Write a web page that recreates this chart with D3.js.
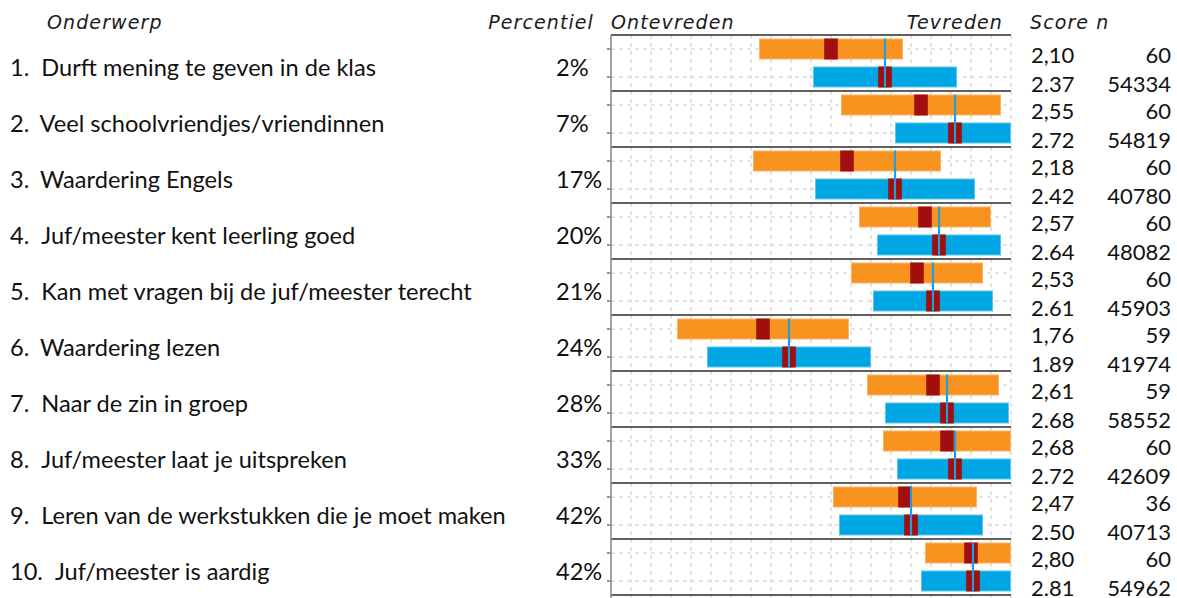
<!DOCTYPE html>
<html>
<head>
<meta charset="utf-8">
<script src="https://cdn.jsdelivr.net/npm/d3@7"></script>
<style>
  html, body { margin: 0; padding: 0; background: #fff; overflow: hidden; }
  svg { display: block; }
  .head { font-family: "DejaVu Sans", sans-serif; font-style: italic; font-size: 19px; fill: #1a1a1a; letter-spacing: 1.1px; }
  .lbl { font-family: Lato, "Open Sans", sans-serif; font-size: 23.6px; fill: #111; }
  .num { font-family: Lato, "Open Sans", sans-serif; font-size: 22px; fill: #111; }
</style>
</head>
<body>
<svg id="chart" width="1177" height="598"></svg>
<script>
// Onderwerpen (topics) and the school's percentile per topic
const topics = [
  "Durft mening te geven in de klas",
  "Veel schoolvriendjes/vriendinnen",
  "Waardering Engels",
  "Juf/meester kent leerling goed",
  "Kan met vragen bij de juf/meester terecht",
  "Waardering lezen",
  "Naar de zin in groep",
  "Juf/meester laat je uitspreken",
  "Leren van de werkstukken die je moet maken",
  "Juf/meester is aardig"
];
const percentiles = [2, 7, 17, 20, 21, 24, 28, 33, 42, 42];

// School: mean score, spread (half bar width) and number of respondents
const schoolScore  = [2.10, 2.55, 2.18, 2.57, 2.53, 1.76, 2.61, 2.68, 2.47, 2.80];
const schoolSpread = [0.36, 0.40, 0.47, 0.33, 0.33, 0.43, 0.33, 0.32, 0.36, 0.23];
const schoolN      = [60, 60, 60, 60, 60, 59, 59, 60, 36, 60];

// Reference group: mean score, spread and number of respondents
const refScore  = [2.37, 2.72, 2.42, 2.64, 2.61, 1.89, 2.68, 2.72, 2.50, 2.81];
const refSpread = [0.36, 0.30, 0.40, 0.31, 0.30, 0.41, 0.31, 0.29, 0.36, 0.26];
const refN      = [54334, 54819, 40780, 48082, 45903, 41974, 58552, 42609, 40713, 54962];

// Score scale and grid step
const scoreDomain = [1, 3];
const gridStep = 0.1;
const markerHalf = 0.034;

const colors = {
  school: "#F7921E", schoolEdge: "#FBB366",
  ref: "#00A5E3", refEdge: "#5CC6F0",
  marker: "#A00E0E", refLine: "#1E9FDD"
};

const svg = d3.select("#chart");
const plotLeft = 611, plotRight = 1011, plotTop = 35, rowH = 56;

const x = d3.scaleLinear().domain(scoreDomain).range([plotLeft, plotRight]);
const y = d3.scaleBand().domain(d3.range(topics.length))
  .range([plotTop, plotTop + rowH * topics.length]).paddingInner(0).paddingOuter(0);
const sub = d3.scaleBand().domain(["school", "ref"]).range([0, y.bandwidth()])
  .paddingInner(0.25).paddingOuter(0.125);

const rows = topics.map((t, i) => ({
  i, topic: t, pct: percentiles[i],
  school: { key: "school", score: schoolScore[i], spread: schoolSpread[i], n: schoolN[i] },
  ref: { key: "ref", score: refScore[i], spread: refSpread[i], n: refN[i] }
}));

// Headers
const head = svg.append("g");
head.append("text").attr("class", "head").attr("x", 47).attr("y", 29).text("Onderwerp");
head.append("text").attr("class", "head").attr("x", 594).attr("y", 29).attr("text-anchor", "end").text("Percentiel");
head.append("text").attr("class", "head").attr("x", 611).attr("y", 29).text("Ontevreden");
head.append("text").attr("class", "head").attr("x", 1003).attr("y", 29).attr("text-anchor", "end").text("Tevreden");
head.append("text").attr("class", "head").attr("x", 1030).attr("y", 29).text("Score n");

// Grid: dashed vertical lines at every 0.1
const gridTicks = d3.range(scoreDomain[0] + gridStep, scoreDomain[1] + gridStep / 2, gridStep);
const grid = svg.append("g");
grid.selectAll("line.v").data(gridTicks).join("line")
  .attr("x1", d => x(d)).attr("x2", d => x(d))
  .attr("y1", plotTop).attr("y2", 598)
  .attr("stroke", "#c8c8c8").attr("stroke-width", 1).attr("stroke-dasharray", "4,4");

// Dashed horizontal lines and ticks at each bar
const barCenters = [];
rows.forEach(r => ["school", "ref"].forEach(k => barCenters.push(y(r.i) + sub(k) + sub.bandwidth() / 2)));
grid.selectAll("line.h").data(barCenters).join("line")
  .attr("x1", plotLeft).attr("x2", plotRight)
  .attr("y1", d => d).attr("y2", d => d)
  .attr("stroke", "#c8c8c8").attr("stroke-width", 1).attr("stroke-dasharray", "4,4");
grid.selectAll("line.t").data(barCenters).join("line")
  .attr("x1", plotLeft - 4).attr("x2", plotLeft)
  .attr("y1", d => d).attr("y2", d => d)
  .attr("stroke", "#333").attr("stroke-width", 1);

// Row separators
grid.selectAll("line.sep").data(d3.range(topics.length + 1)).join("line")
  .attr("x1", plotLeft).attr("x2", plotRight)
  .attr("y1", d => plotTop + d * rowH).attr("y2", d => plotTop + d * rowH)
  .attr("stroke", "#2a2a2a").attr("stroke-width", 1.3);

// Left axis line
svg.append("line").attr("x1", plotLeft).attr("x2", plotLeft).attr("y1", plotTop).attr("y2", 598)
  .attr("stroke", "#8a8a8a").attr("stroke-width", 1.6);

// Bars
const clamp = v => Math.max(scoreDomain[0], Math.min(scoreDomain[1], v));
const rowG = svg.append("g").selectAll("g.row").data(rows).join("g")
  .attr("transform", d => `translate(0,${y(d.i)})`);

rowG.each(function (r) {
  const g = d3.select(this);
  [r.school, r.ref].forEach(s => {
    const lo = clamp(s.score - s.spread), hi = clamp(s.score + s.spread);
    g.append("rect")
      .attr("x", x(lo) + 0.5).attr("y", sub(s.key) + 0.5)
      .attr("width", x(hi) - x(lo) - 1).attr("height", sub.bandwidth() - 1)
      .attr("fill", colors[s.key]).attr("stroke", colors[s.key + "Edge"]).attr("stroke-width", 1);
    g.append("rect")
      .attr("x", x(s.score - markerHalf)).attr("y", sub(s.key))
      .attr("width", x(s.score + markerHalf) - x(s.score - markerHalf)).attr("height", sub.bandwidth())
      .attr("fill", colors.marker);
  });
  // reference mean line across both bars
  g.append("line")
    .attr("x1", x(r.ref.score)).attr("x2", x(r.ref.score))
    .attr("y1", sub("school")).attr("y2", sub("ref") + sub.bandwidth())
    .attr("stroke", colors.refLine).attr("stroke-width", 2.2);
});

// Topic labels
const fmtComma = v => d3.format(".2f")(v).replace(".", ",");
const fmtDot = d3.format(".2f");
const labels = svg.append("g").selectAll("g").data(rows).join("g")
  .attr("transform", d => `translate(0,${y(d.i)})`);
const lt = labels.append("text").attr("class", "lbl").attr("x", 10).attr("y", 41);
lt.append("tspan").text(d => `${d.i + 1}.`);
lt.append("tspan").attr("dx", 12).text(d => d.topic);
labels.append("text").attr("class", "lbl").attr("x", 556).attr("y", 41).text(d => `${d.pct}%`);

// Scores and counts
labels.append("text").attr("class", "num").attr("x", 1031).attr("y", 28).text(d => fmtComma(d.school.score));
labels.append("text").attr("class", "num").attr("x", 1171).attr("y", 28).attr("text-anchor", "end").text(d => d.school.n);
labels.append("text").attr("class", "num").attr("x", 1031).attr("y", 57).text(d => fmtDot(d.ref.score));
labels.append("text").attr("class", "num").attr("x", 1171).attr("y", 57).attr("text-anchor", "end").text(d => d.ref.n);
</script>
</body>
</html>
